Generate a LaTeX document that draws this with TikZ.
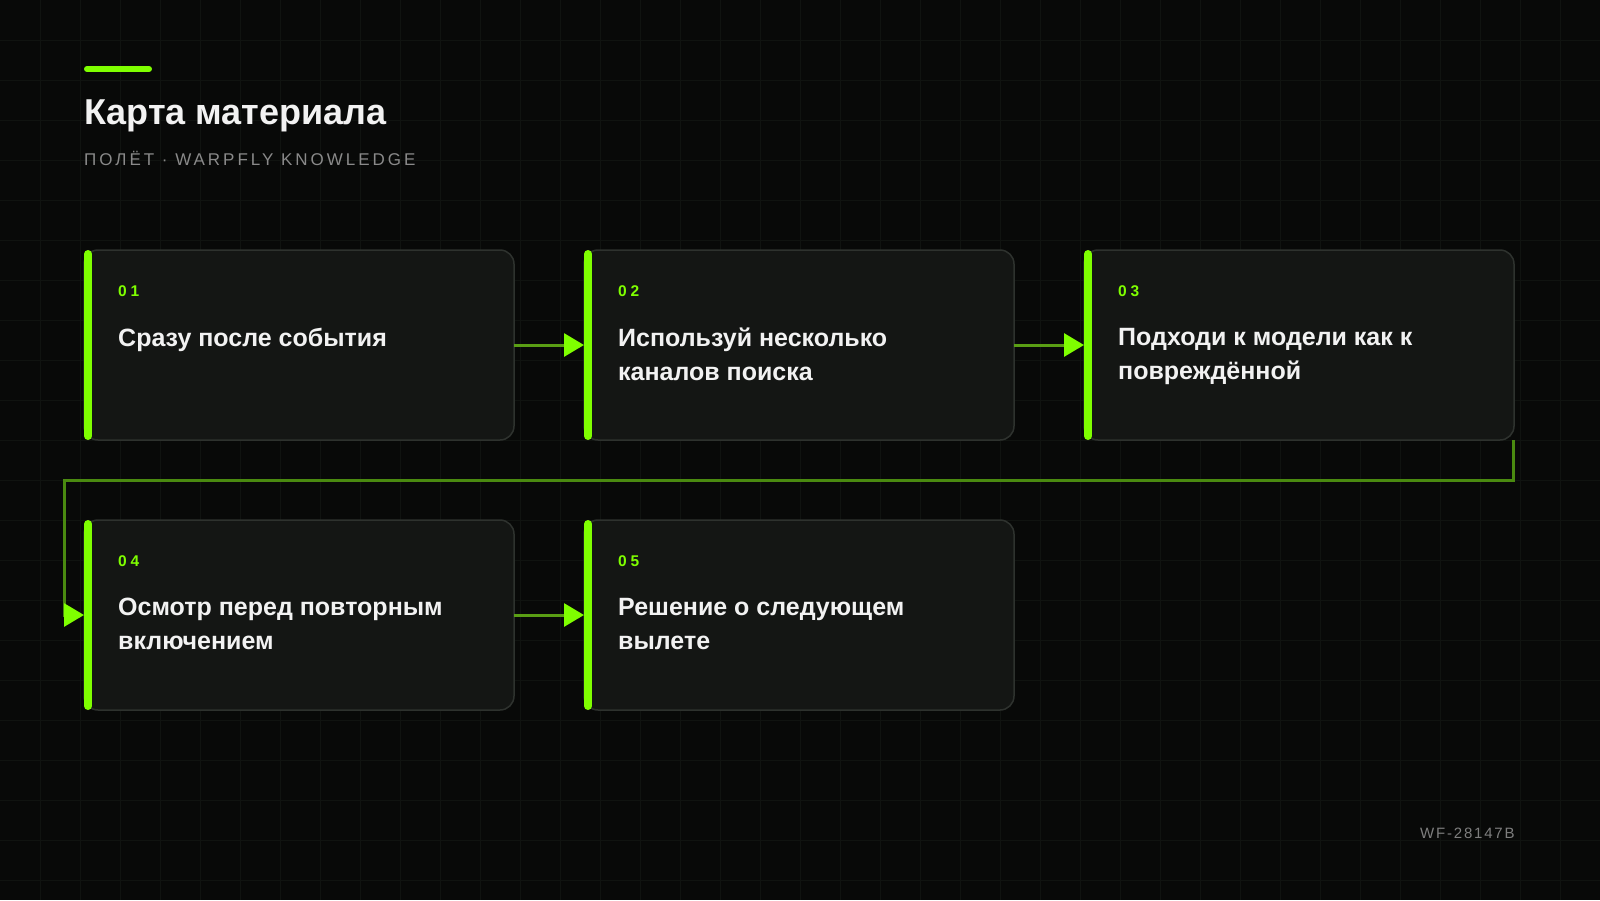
\documentclass[tikz,border=0pt]{standalone}
\usepackage{fontspec}
\setmainfont{Liberation Sans}
\newfontfamily\subfont[LetterSpace=17.5]{Liberation Sans}
\newfontfamily\numfont[LetterSpace=25]{Liberation Sans}
\newfontfamily\tagfont[LetterSpace=12]{Liberation Sans}
\usetikzlibrary{arrows.meta}
\definecolor{bg}{HTML}{080908}
\definecolor{gridc}{HTML}{101310}
\definecolor{cardfill}{HTML}{141614}
\definecolor{cardline}{HTML}{2E322E}
\definecolor{lime}{HTML}{7FFF00}
\definecolor{linkc}{HTML}{5A9E14}
\definecolor{loopc}{HTML}{4A8A10}
\definecolor{subc}{HTML}{8A8A8A}
\definecolor{tagc}{HTML}{7E7E7E}
\definecolor{txt}{HTML}{F2F2F2}
\begin{document}
\begin{tikzpicture}[x=1pt,y=-1pt,
  card/.style={draw=cardline,line width=1.5pt,fill=cardfill,rounded corners=14pt,
    minimum width=430pt,minimum height=190pt,inner sep=0pt,outer sep=0pt,anchor=north west},
  sidebar/.style={draw=lime,line width=8pt,line cap=round},
  numtext/.style={anchor=base west,inner sep=0pt,text=lime,font=\numfont\bfseries\fontsize{15.5}{18}\selectfont},
  titletext/.style={anchor=north west,inner sep=0pt,text=txt,align=left,font=\bfseries\fontsize{25}{34}\selectfont},
  link/.style={draw=linkc,line width=3pt,-{Triangle[length=20pt,width=23pt,color=lime]}},
  looplink/.style={draw=loopc,line width=3pt,-{Triangle[length=20pt,width=23pt,color=lime]}},
  gridline/.style={draw=gridc,line width=1pt}]
\useasboundingbox (0,0) rectangle (1600,900);
\fill[bg] (0,0) rectangle (1600,900);
\foreach \i in {40,80,...,1560} \draw[gridline] (\i,0) -- (\i,900);
\foreach \j in {40,80,...,880} \draw[gridline] (0,\j) -- (1600,\j);

% header
\draw[lime,line width=6pt,line cap=round] (87,69) -- (149,69);
\node[anchor=base west,inner sep=0pt,text=txt,font=\bfseries\fontsize{36}{40}\selectfont] (title) at (84,124) {Карта материала};
\node[anchor=base west,inner sep=0pt,text=subc,font=\subfont\fontsize{17}{20}\selectfont] (sub) at (84,165) {ПОЛЁТ · WARPFLY KNOWLEDGE};

% cards
\node[card] (c1) at (84,250) {};
\node[card] (c2) at (584,250) {};
\node[card] (c3) at (1084,250) {};
\node[card] (c4) at (84,520) {};
\node[card] (c5) at (584,520) {};

\draw[sidebar] (88,254) -- (88,436);
\draw[sidebar] (588,254) -- (588,436);
\draw[sidebar] (1088,254) -- (1088,436);
\draw[sidebar] (88,524) -- (88,706);
\draw[sidebar] (588,524) -- (588,706);

\node[numtext] (n1) at (118,296) {01};
\node[numtext] (n2) at (618,296) {02};
\node[numtext] (n3) at (1118,296) {03};
\node[numtext] (n4) at (118,566) {04};
\node[numtext] (n5) at (618,566) {05};

\node[titletext] (t1) at (118,328) {Сразу после события};
\node[titletext] (t2) at (618,328) {Используй несколько\\каналов поиска};
\node[titletext] (t3) at (1118,328) {Подходи к модели как к\\повреждённой};
\node[titletext] (t4) at (118,598) {Осмотр перед повторным\\включением};
\node[titletext] (t5) at (618,598) {Решение о следующем\\вылете};

% connectors
\draw[link] (c1.east) -- (c2.west);
\draw[link] (c2.east) -- (c3.west);
\draw[link] (c4.east) -- (c5.west);
\coordinate (j1) at (64,480);
\draw[looplink] ([xshift=-1pt]c3.south east) |- (j1) |- (c4.west);

% footer
\node[anchor=base west,inner sep=0pt,text=tagc,font=\tagfont\fontsize{15}{18}\selectfont] (tag) at (1420,838) {WF-28147B};
\end{tikzpicture}
\end{document}
